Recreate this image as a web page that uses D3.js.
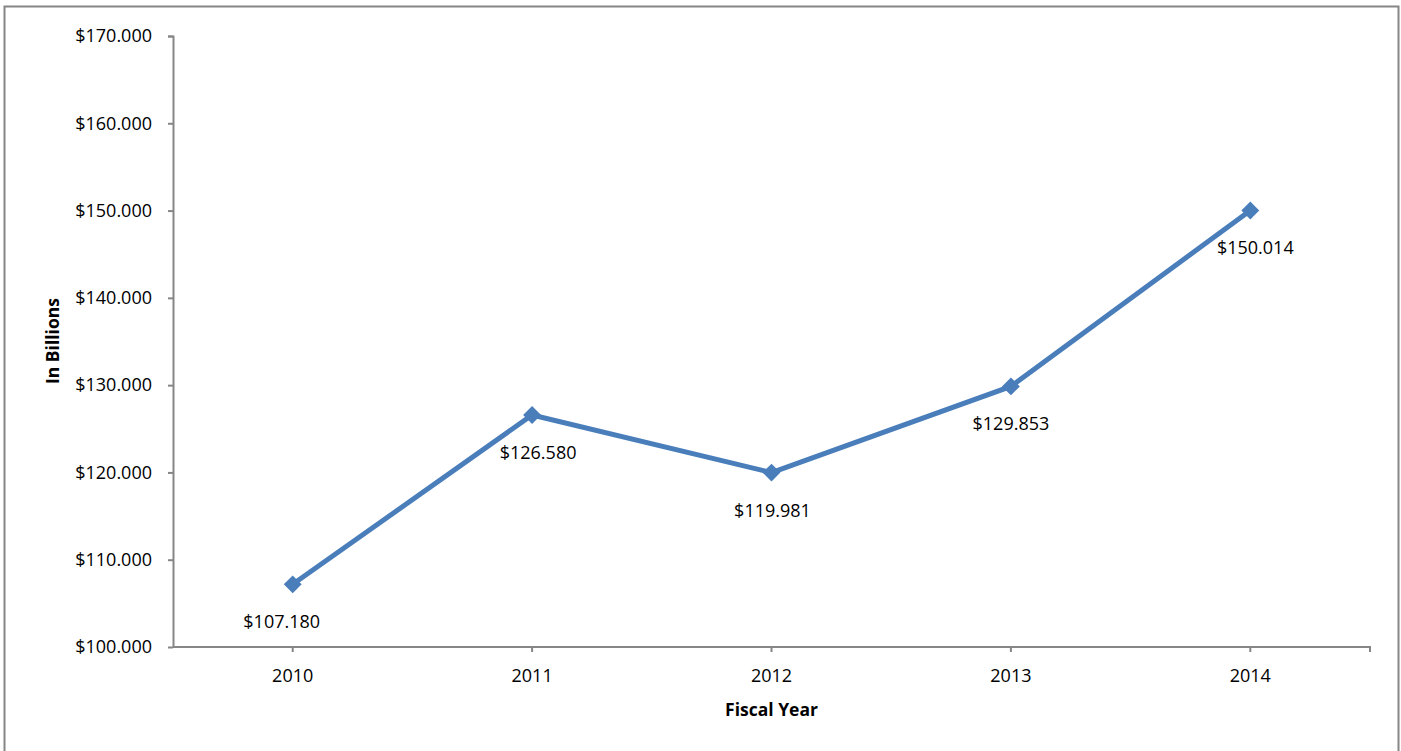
<!DOCTYPE html>
<html>
<head>
<meta charset="utf-8">
<script src="https://cdn.jsdelivr.net/npm/d3@7"></script>
<style>
  body { margin: 0; background: #fff; }
  text { font-family: "Open Sans", "Noto Sans", sans-serif; fill: #000; }
</style>
</head>
<body>
<div id="chart"></div>
<script>
// chart data
const years = ["2010", "2011", "2012", "2013", "2014"];
const values = [107.180, 126.580, 119.981, 129.853, 150.014];
const yTicks = [100, 110, 120, 130, 140, 150, 160, 170];
const labelShift = [-11, 6, 1, 0, 5];

const W = 1401, H = 751;
const margin = { top: 36, right: 31, bottom: 104, left: 173 };
const width = W - margin.left - margin.right;
const height = H - margin.top - margin.bottom;

const svg = d3.select("#chart").append("svg")
    .attr("width", W)
    .attr("height", H);

// outer chart border
svg.append("rect")
    .attr("x", 4.5).attr("y", 6.5)
    .attr("width", 1394).attr("height", 760)
    .attr("fill", "none")
    .attr("stroke", "#868686")
    .attr("stroke-width", 2);

const g = svg.append("g")
    .attr("transform", `translate(${margin.left},${margin.top})`);

// scales
const x = d3.scaleBand().domain(years).range([0, width]);
const y = d3.scaleLinear().domain([100, 170]).range([height, 0]);

// axes
const yAxis = d3.axisLeft(y)
    .tickValues(yTicks)
    .tickSize(5)
    .tickPadding(16)
    .tickFormat(d => "$" + d3.format(".3f")(d));

const xAxis = d3.axisBottom(x)
    .tickSize(5)
    .tickPadding(17);

const gy = g.append("g").attr("class", "axis y-axis").call(yAxis);
const gx = g.append("g").attr("class", "axis x-axis")
    .attr("transform", `translate(0,${height})`).call(xAxis);

[gx, gy].forEach(a => {
  a.selectAll("path, line").attr("stroke", "#868686").attr("stroke-width", 2);
  a.selectAll("text")
    .style("font-size", "18px")
    .attr("fill", "#000");
});
gy.select(".domain").attr("d", `M-5,0.5H0.5V${height}`);
gx.select(".domain").attr("d", `M0,0V0H${width}V5`);

// axis titles
g.append("text")
    .attr("transform", `translate(${59 - margin.left},${341 - margin.top}) rotate(-90)`)
    .attr("text-anchor", "middle")
    .style("font-size", "17.5px")
    .style("font-weight", "bold")
    .text("In Billions");

g.append("text")
    .attr("x", width / 2)
    .attr("y", 716 - margin.top)
    .attr("text-anchor", "middle")
    .style("font-size", "17.5px")
    .style("font-weight", "bold")
    .text("Fiscal Year");

// line
const cx = (d, i) => x(years[i]) + x.bandwidth() / 2;
const line = d3.line()
    .x((d, i) => cx(d, i))
    .y(d => y(d));

g.append("path")
    .datum(values)
    .attr("fill", "none")
    .attr("stroke", "#4a7ebb")
    .attr("stroke-width", 5)
    .attr("d", line);

// diamond markers
g.selectAll(".point")
    .data(values)
    .enter().append("path")
    .attr("class", "point")
    .attr("d", d3.symbol().type(d3.symbolSquare).size(160))
    .attr("fill", "#4a7ebb")
    .attr("transform", (d, i) => `translate(${cx(d, i)},${y(d)}) rotate(45)`);

// data labels
g.selectAll(".label")
    .data(values)
    .enter().append("text")
    .attr("class", "label")
    .attr("x", (d, i) => cx(d, i) + labelShift[i])
    .attr("y", d => y(d) + 44)
    .attr("text-anchor", "middle")
    .style("font-size", "18px")
    .text(d => "$" + d3.format(".3f")(d));
</script>
</body>
</html>
